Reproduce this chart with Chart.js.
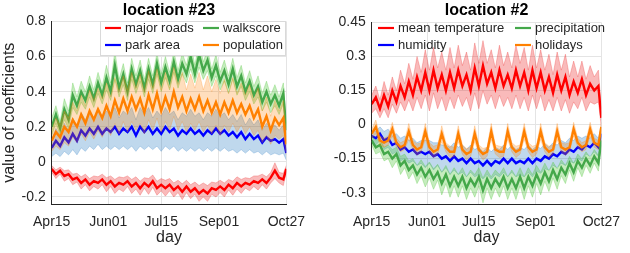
<!DOCTYPE html>
<html>
<head>
<meta charset="utf-8">
<script src="https://cdn.jsdelivr.net/npm/chart.js@4/dist/chart.umd.min.js"></script>
<style>
  html, body { margin: 0; padding: 0; background: #fff; }
  #wrap { position: relative; width: 630px; height: 253px; }
  .panel { position: absolute; top: 0; width: 315px; height: 253px; }
</style>
</head>
<body>
<div id="wrap">
  <div class="panel" style="left:0"><canvas id="loc23"></canvas></div>
  <div class="panel" style="left:315px"><canvas id="loc2"></canvas></div>
</div>
<script>
// days since Apr15, sampled twice a week
const days = [0,3.5,7,10.5,14,17.5,21,24.5,28,31.5,
  35,38.5,42,45.5,49,52.5,56,59.5,63,66.5,
  70,73.5,77,80.5,84,87.5,91,94.5,98,101.5,
  105,108.5,112,115.5,119,122.5,126,129.5,133,136.5,
  140,143.5,147,150.5,154,157.5,161,164.5,168,171.5,
  175,178.5,182,185.5,189,192.5,195];

const xTickDays = [0, 47, 91, 139, 195];
const xTickLabels = ["Apr15", "Jun01", "Jul15", "Sep01", "Oct27"];
const yTicks23 = [-0.2, 0, 0.2, 0.4, 0.6, 0.8];
const yLabels23 = ["-0.2", "0", "0.2", "0.4", "0.6", "0.8"];
const yTicks2 = [-0.3, -0.15, 0, 0.15, 0.3, 0.45];
const yLabels2 = ["-0.3", "-0.15", "0", "0.15", "0.3", "0.45"];

// ---- location #23 ----
const majorRoads = [-0.04,-0.07,-0.05,-0.08,-0.07,-0.10,-0.09,-0.12,-0.10,-0.13,
  -0.11,-0.12,-0.10,-0.13,-0.11,-0.14,-0.12,-0.13,-0.11,-0.14,
  -0.12,-0.15,-0.12,-0.14,-0.11,-0.15,-0.13,-0.15,-0.13,-0.16,
  -0.14,-0.17,-0.14,-0.17,-0.15,-0.18,-0.16,-0.18,-0.15,-0.16,
  -0.14,-0.16,-0.13,-0.15,-0.12,-0.14,-0.12,-0.13,-0.11,-0.12,
  -0.10,-0.12,-0.09,-0.05,-0.09,-0.10,-0.04];
const majorRoadsBand = [0.02,0.025,0.02,0.03,0.025,0.03,0.025,0.035,0.03,0.035,
  0.03,0.035,0.03,0.04,0.03,0.04,0.035,0.04,0.03,0.04,
  0.035,0.04,0.03,0.045,0.035,0.04,0.035,0.045,0.035,0.04,
  0.035,0.045,0.035,0.04,0.035,0.045,0.04,0.045,0.035,0.04,
  0.035,0.04,0.03,0.04,0.035,0.04,0.03,0.035,0.03,0.04,
  0.03,0.035,0.03,0.045,0.03,0.035,0.02];

const parkArea = [0.08,0.12,0.09,0.14,0.11,0.16,0.12,0.18,0.15,0.19,
  0.16,0.20,0.16,0.19,0.17,0.20,0.16,0.19,0.17,0.20,
  0.15,0.20,0.17,0.20,0.16,0.19,0.16,0.20,0.17,0.19,
  0.15,0.18,0.16,0.19,0.16,0.18,0.15,0.18,0.16,0.19,
  0.16,0.18,0.15,0.17,0.14,0.17,0.13,0.16,0.13,0.15,
  0.11,0.14,0.12,0.13,0.11,0.13,0.05];
const parkAreaBand = [0.05,0.07,0.06,0.08,0.07,0.09,0.08,0.10,0.09,0.10,
  0.09,0.10,0.09,0.10,0.10,0.11,0.09,0.10,0.10,0.11,
  0.09,0.11,0.10,0.11,0.09,0.10,0.10,0.11,0.10,0.10,
  0.09,0.10,0.10,0.11,0.10,0.10,0.09,0.10,0.10,0.11,
  0.10,0.10,0.09,0.10,0.09,0.10,0.08,0.09,0.08,0.09,
  0.07,0.08,0.08,0.08,0.07,0.08,0.04];

const walkscore = [0.20,0.27,0.19,0.30,0.24,0.38,0.32,0.40,0.35,0.43,
  0.36,0.45,0.38,0.48,0.40,0.55,0.42,0.50,0.40,0.53,
  0.44,0.52,0.42,0.53,0.44,0.56,0.45,0.54,0.46,0.57,
  0.47,0.56,0.50,0.60,0.50,0.61,0.52,0.58,0.48,0.55,
  0.46,0.52,0.44,0.53,0.43,0.49,0.40,0.46,0.38,0.43,
  0.34,0.40,0.33,0.38,0.32,0.39,0.18];
const walkscoreBand = [0.05,0.05,0.04,0.06,0.05,0.07,0.05,0.06,0.05,0.06,
  0.05,0.06,0.05,0.07,0.05,0.08,0.05,0.06,0.05,0.06,
  0.05,0.06,0.05,0.06,0.05,0.06,0.05,0.06,0.05,0.06,
  0.05,0.06,0.05,0.07,0.05,0.07,0.05,0.06,0.05,0.06,
  0.05,0.06,0.05,0.06,0.05,0.06,0.05,0.06,0.05,0.06,
  0.05,0.06,0.05,0.06,0.05,0.06,0.04];

const population = [0.12,0.17,0.14,0.20,0.17,0.24,0.20,0.27,0.22,0.29,
  0.24,0.30,0.25,0.32,0.26,0.35,0.28,0.36,0.29,0.37,
  0.30,0.36,0.28,0.38,0.30,0.39,0.29,0.37,0.30,0.40,
  0.31,0.37,0.29,0.36,0.30,0.37,0.29,0.35,0.28,0.34,
  0.27,0.34,0.28,0.35,0.28,0.33,0.27,0.32,0.25,0.30,
  0.20,0.26,0.18,0.25,0.21,0.25,0.10];
const populationBand = [0.06,0.08,0.07,0.09,0.08,0.10,0.09,0.11,0.10,0.12,
  0.11,0.12,0.11,0.13,0.11,0.13,0.12,0.13,0.12,0.14,
  0.12,0.14,0.12,0.14,0.12,0.14,0.12,0.14,0.12,0.14,
  0.13,0.14,0.12,0.14,0.12,0.14,0.12,0.14,0.12,0.13,
  0.12,0.13,0.11,0.13,0.11,0.12,0.11,0.12,0.10,0.12,
  0.09,0.11,0.08,0.10,0.08,0.10,0.06];

// ---- location #2 ----
const meanTemperature = [0.09,0.12,0.07,0.13,0.08,0.15,0.10,0.17,0.12,0.19,
  0.13,0.21,0.15,0.23,0.15,0.24,0.16,0.22,0.15,0.23,
  0.16,0.24,0.17,0.22,0.15,0.25,0.17,0.26,0.18,0.23,
  0.16,0.24,0.17,0.22,0.16,0.24,0.17,0.23,0.15,0.24,
  0.16,0.23,0.15,0.21,0.14,0.22,0.15,0.21,0.13,0.19,
  0.14,0.20,0.13,0.18,0.15,0.17,0.03];
const meanTemperatureBand = [0.04,0.05,0.04,0.06,0.05,0.06,0.05,0.07,0.06,0.08,
  0.07,0.09,0.08,0.10,0.09,0.10,0.09,0.10,0.09,0.11,
  0.09,0.11,0.09,0.10,0.09,0.11,0.10,0.11,0.09,0.10,
  0.09,0.11,0.09,0.10,0.09,0.11,0.10,0.11,0.09,0.11,
  0.09,0.10,0.09,0.10,0.08,0.10,0.09,0.10,0.08,0.09,
  0.07,0.08,0.07,0.08,0.06,0.07,0.04];

const humidity = [-0.05,-0.06,-0.04,-0.07,-0.06,-0.09,-0.08,-0.11,-0.10,-0.12,
  -0.11,-0.13,-0.12,-0.13,-0.12,-0.14,-0.13,-0.15,-0.14,-0.16,
  -0.14,-0.16,-0.15,-0.17,-0.15,-0.17,-0.16,-0.18,-0.16,-0.18,
  -0.16,-0.17,-0.15,-0.17,-0.15,-0.17,-0.16,-0.17,-0.15,-0.17,
  -0.15,-0.16,-0.14,-0.15,-0.13,-0.14,-0.12,-0.13,-0.11,-0.12,
  -0.10,-0.11,-0.09,-0.10,-0.08,-0.10,-0.04];
const humidityBand = [0.02,0.03,0.03,0.04,0.04,0.04,0.04,0.05,0.05,0.05,
  0.05,0.05,0.05,0.06,0.05,0.06,0.05,0.06,0.05,0.06,
  0.06,0.06,0.06,0.06,0.06,0.06,0.06,0.06,0.06,0.06,
  0.06,0.06,0.06,0.06,0.06,0.06,0.06,0.06,0.06,0.06,
  0.055,0.055,0.055,0.05,0.05,0.05,0.05,0.05,0.05,0.05,
  0.05,0.05,0.04,0.04,0.04,0.04,0.03];

const precipitation = [-0.07,-0.10,-0.09,-0.13,-0.12,-0.15,-0.13,-0.18,-0.16,-0.20,
  -0.18,-0.22,-0.19,-0.23,-0.20,-0.24,-0.21,-0.26,-0.22,-0.27,
  -0.23,-0.27,-0.23,-0.28,-0.24,-0.27,-0.23,-0.29,-0.24,-0.28,
  -0.24,-0.27,-0.23,-0.28,-0.24,-0.28,-0.23,-0.28,-0.23,-0.27,
  -0.22,-0.26,-0.21,-0.25,-0.20,-0.24,-0.19,-0.22,-0.17,-0.21,
  -0.16,-0.19,-0.15,-0.18,-0.14,-0.17,-0.07];
const precipitationBand = [0.02,0.03,0.03,0.03,0.03,0.04,0.03,0.04,0.03,0.04,
  0.03,0.04,0.035,0.045,0.035,0.045,0.035,0.05,0.04,0.05,
  0.04,0.05,0.04,0.05,0.04,0.05,0.04,0.055,0.04,0.05,
  0.04,0.05,0.04,0.05,0.04,0.05,0.04,0.05,0.04,0.05,
  0.04,0.05,0.04,0.045,0.035,0.045,0.035,0.04,0.03,0.04,
  0.03,0.04,0.03,0.035,0.03,0.035,0.02];

const holidays = [-0.04,-0.01,-0.07,-0.08,-0.07,-0.02,-0.08,-0.10,-0.09,-0.03,
  -0.09,-0.11,-0.10,-0.03,-0.10,-0.12,-0.11,-0.04,-0.10,-0.12,
  -0.12,-0.04,-0.11,-0.13,-0.12,-0.04,-0.11,-0.13,-0.12,-0.03,
  -0.11,-0.12,-0.12,-0.03,-0.10,-0.12,-0.11,-0.03,-0.10,-0.12,
  -0.11,-0.03,-0.10,-0.12,-0.11,-0.03,-0.10,-0.11,-0.10,-0.02,
  -0.08,-0.10,-0.09,-0.02,-0.08,-0.09,-0.01];
const holidaysBand = [0.02,0.03,0.02,0.02,0.02,0.03,0.02,0.02,0.02,0.035,
  0.02,0.025,0.02,0.035,0.02,0.025,0.02,0.035,0.02,0.025,
  0.02,0.035,0.02,0.025,0.02,0.035,0.02,0.025,0.02,0.035,
  0.02,0.025,0.02,0.035,0.02,0.025,0.02,0.035,0.02,0.025,
  0.02,0.035,0.02,0.025,0.02,0.035,0.02,0.025,0.02,0.03,
  0.02,0.02,0.02,0.03,0.02,0.02,0.02];

const FONT = "'Liberation Sans', Arial, Helvetica, sans-serif";
const INK = "#262626";

const RED = { line: "#ff0000", fill: "rgba(235,40,40,0.32)", edge: "rgba(235,40,40,0.35)" };
const BLUE = { line: "#0000ff", fill: "rgba(20,110,190,0.27)", edge: "rgba(20,110,190,0.3)" };
const GREEN = { line: "#44a84a", fill: "rgba(90,200,70,0.35)", edge: "rgba(90,200,70,0.4)" };
const ORANGE = { line: "#ff8000", fill: "rgba(255,128,0,0.26)", edge: "rgba(255,128,0,0.3)" };

// drawing order follows the list (later ones sit on top)
const series23 = [
  { name: "major roads", mean: majorRoads, band: majorRoadsBand, c: RED },
  { name: "park area", mean: parkArea, band: parkAreaBand, c: BLUE },
  { name: "walkscore", mean: walkscore, band: walkscoreBand, c: GREEN },
  { name: "population", mean: population, band: populationBand, c: ORANGE }
];
const series2 = [
  { name: "mean temperature", mean: meanTemperature, band: meanTemperatureBand, c: RED },
  { name: "humidity", mean: humidity, band: humidityBand, c: BLUE },
  { name: "precipitation", mean: precipitation, band: precipitationBand, c: GREEN },
  { name: "holidays", mean: holidays, band: holidaysBand, c: ORANGE }
];

function buildDatasets(series) {
  const out = [];
  let k = 0;
  series.forEach(s => {
    out.push({
      data: days.map((d, i) => ({ x: d, y: s.mean[i] - s.band[i] })),
      borderColor: s.c.edge, borderWidth: 0.8, pointRadius: 0, fill: false, order: -k++
    });
    out.push({
      data: days.map((d, i) => ({ x: d, y: s.mean[i] + s.band[i] })),
      borderColor: s.c.edge, borderWidth: 0.8, pointRadius: 0,
      backgroundColor: s.c.fill, fill: "-1", order: -k++
    });
    out.push({
      label: s.name,
      data: days.map((d, i) => ({ x: d, y: s.mean[i] })),
      borderColor: s.c.line, borderWidth: 2.4, pointRadius: 0, fill: false, order: -k++
    });
  });
  return out;
}

// legend and title drawn inside the axes, MATLAB style
const insideLegend = {
  id: "insideLegend",
  afterDraw(chart, args, opts) {
    const ctx = chart.ctx;
    const area = chart.chartArea;
    ctx.save();
    if (opts.box) {
      const b = opts.box;
      ctx.fillStyle = "#ffffff";
      ctx.fillRect(b[0], b[1], b[2], b[3]);
      ctx.strokeStyle = "#d9d9d9";
      ctx.lineWidth = 1;
      ctx.strokeRect(b[0] + 0.5, b[1] + 0.5, b[2], b[3]);
    }
    ctx.font = "13px " + FONT;
    ctx.textBaseline = "middle";
    ctx.textAlign = "left";
    opts.items.forEach(it => {
      ctx.strokeStyle = it.color;
      ctx.lineWidth = 2.2;
      ctx.beginPath();
      ctx.moveTo(it.x, it.y);
      ctx.lineTo(it.x + 16, it.y);
      ctx.stroke();
      ctx.fillStyle = INK;
      ctx.fillText(it.label, it.x + 20, it.y);
    });
    ctx.font = "bold 16px " + FONT;
    ctx.fillStyle = "#000";
    ctx.textAlign = "center";
    ctx.fillText(opts.title, (area.left + area.right) / 2, 10.5);
    ctx.restore();
  }
};

function makeChart(id, series, yMin, yMax, yTicks, yLabels, opt) {
  return new Chart(document.getElementById(id), {
    type: "line",
    data: { datasets: buildDatasets(series) },
    options: {
      responsive: true,
      maintainAspectRatio: false,
      animation: false,
      devicePixelRatio: 1,
      layout: { padding: { top: opt.top, right: opt.right, left: 0, bottom: 0 } },
      elements: { line: { tension: 0 } },
      plugins: {
        legend: { display: false },
        tooltip: { enabled: false },
        insideLegend: { items: opt.legend, box: opt.box, title: opt.title }
      },
      scales: {
        x: {
          type: "linear", min: 0, max: 195,
          afterBuildTicks: s => { s.ticks = xTickDays.map(v => ({ value: v })); },
          ticks: {
            callback: (v, i) => xTickLabels[i],
            font: { family: FONT, size: 14 }, color: INK,
            maxRotation: 0, autoSkip: false, padding: 10
          },
          grid: { color: "#e4e4e4", drawTicks: false },
          border: { color: INK, width: 1 },
          title: { display: true, text: "day", font: { family: FONT, size: 16 }, color: INK,
                   padding: { top: 0, bottom: 6 } },
          afterFit: s => { s.height = 49; }
        },
        y: {
          type: "linear", min: yMin, max: yMax,
          afterBuildTicks: s => { s.ticks = yTicks.map(v => ({ value: v })); },
          ticks: {
            callback: (v, i) => yLabels[i],
            font: { family: FONT, size: 14 }, color: INK, padding: 6
          },
          grid: { color: "#e4e4e4", drawTicks: false },
          border: { color: INK, width: 1 },
          title: { display: !!opt.yTitle, text: opt.yTitle || "", font: { family: FONT, size: 16 },
                   color: INK, padding: { top: 0, bottom: 0 } },
          afterFit: s => { s.width = opt.yWidth; }
        }
      }
    },
    plugins: [insideLegend]
  });
}

makeChart("loc23", series23, -0.24, 0.8, yTicks23, yLabels23, {
  top: 21.5, right: 28, yWidth: 51.7, yTitle: "value of coefficients",
  title: "location #23",
  box: [100, 21, 185, 34],
  legend: [
    { label: series23[0].name, color: RED.line, x: 105, y: 28 },
    { label: series23[2].name, color: GREEN.line, x: 203, y: 28 },
    { label: series23[1].name, color: BLUE.line, x: 105, y: 45 },
    { label: series23[3].name, color: ORANGE.line, x: 203, y: 45 }
  ]
});

makeChart("loc2", series2, -0.35, 0.45, yTicks2, yLabels2, {
  top: 22.5, right: 23, yWidth: 56.7,
  title: "location #2",
  legend: [
    { label: series2[0].name, color: RED.line, x: 63, y: 28 },
    { label: series2[2].name, color: GREEN.line, x: 200, y: 28 },
    { label: series2[1].name, color: BLUE.line, x: 63, y: 45 },
    { label: series2[3].name, color: ORANGE.line, x: 200, y: 45 }
  ]
});
</script>
</body>
</html>
